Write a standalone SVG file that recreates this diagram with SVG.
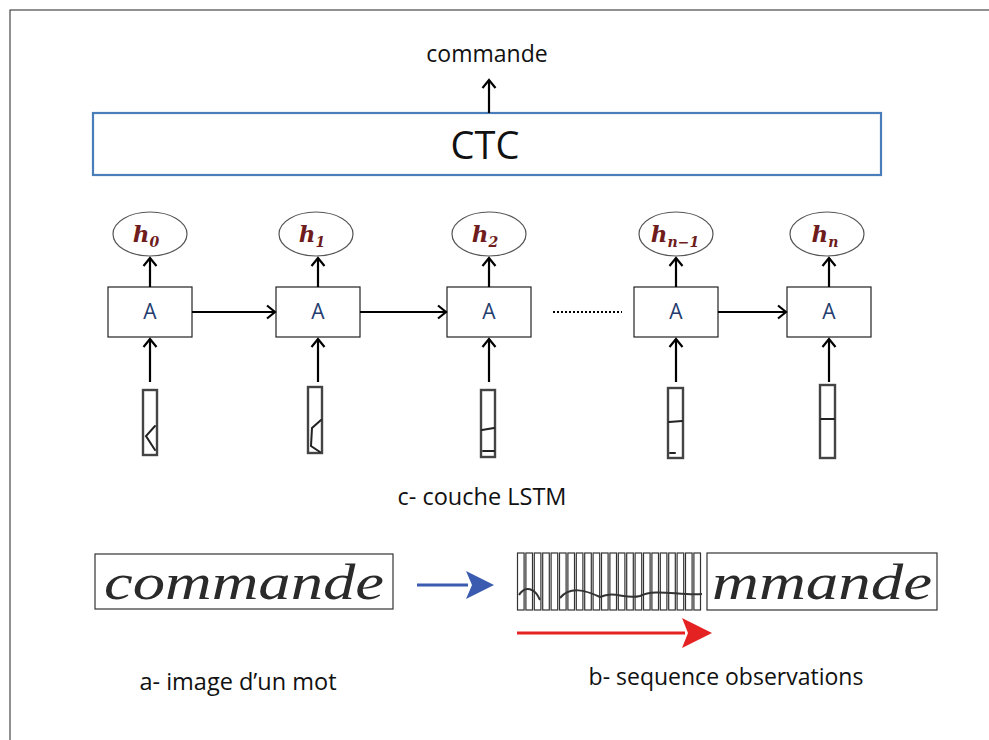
<svg xmlns="http://www.w3.org/2000/svg" width="989" height="740" viewBox="0 0 989 740">
<defs>
<style>
.lbl{font-family:"Open Sans","Liberation Sans",sans-serif;fill:#111;text-anchor:middle}
.box{fill:#fff;stroke:#222;stroke-width:1.2}
.atxt{font-family:"Open Sans","Liberation Sans",sans-serif;font-size:21px;fill:#1f3d6e;text-anchor:middle}
.ell{fill:#fff;stroke:#555;stroke-width:1.2}
.htxt{font-family:"DejaVu Serif","Liberation Serif",serif;font-style:italic;font-weight:bold;font-size:23px;fill:#6e1c1c;text-anchor:middle}
.sub{font-size:14px}
.conn{stroke:#000;stroke-width:2.2;fill:none}
.strip{fill:#fff;stroke:#444;stroke-width:2.4}
.ink{fill:none;stroke:#222;stroke-width:2;stroke-linecap:round}
.hand{font-family:"Liberation Serif",serif;font-style:italic;font-size:50px;fill:#2a2a2a}
.seq{fill:none;stroke:#333;stroke-width:1.2}
</style>
<marker id="open" markerWidth="12" markerHeight="16" refX="10" refY="8" orient="auto" markerUnits="userSpaceOnUse">
<path d="M2,1.5 L10,8 L2,14.5" fill="none" stroke="#000" stroke-width="2.2"/>
</marker>
</defs>
<rect x="10" y="10" width="990" height="760" fill="#fff" stroke="#222" stroke-width="1"/>

<g id="output-label"><text class="lbl" x="487" y="62" font-size="23">commande</text></g>

<g id="ctc">
<rect x="93" y="113" width="788" height="62" fill="#fff" stroke="#4a7ebb" stroke-width="2.2"/>
<text class="lbl" x="485" y="159" font-size="38">CTC</text>
</g>

<g id="h0"><ellipse class="ell" cx="150" cy="234" rx="37" ry="22"/><text class="htxt" x="146" y="242">h<tspan class="sub" dy="5">0</tspan></text></g>
<g id="h1"><ellipse class="ell" cx="316" cy="234" rx="37" ry="22"/><text class="htxt" x="312" y="242">h<tspan class="sub" dy="5">1</tspan></text></g>
<g id="h2"><ellipse class="ell" cx="489" cy="234" rx="37" ry="22"/><text class="htxt" x="485" y="242">h<tspan class="sub" dy="5">2</tspan></text></g>
<g id="hn1"><ellipse class="ell" cx="676" cy="234" rx="37" ry="22"/><text class="htxt" x="675" y="242">h<tspan class="sub" dy="5">n−1</tspan></text></g>
<g id="hn"><ellipse class="ell" cx="827" cy="234" rx="37" ry="22"/><text class="htxt" x="825" y="242">h<tspan class="sub" dy="5">n</tspan></text></g>

<g id="A0"><rect class="box" x="108" y="287" width="84" height="50"/><text class="atxt" x="150" y="319">A</text></g>
<g id="A1"><rect class="box" x="276" y="287" width="84" height="50"/><text class="atxt" x="318" y="319">A</text></g>
<g id="A2"><rect class="box" x="447" y="287" width="84" height="50"/><text class="atxt" x="489" y="319">A</text></g>
<g id="An1"><rect class="box" x="634" y="287" width="84" height="50"/><text class="atxt" x="676" y="319">A</text></g>
<g id="An"><rect class="box" x="787" y="287" width="84" height="50"/><text class="atxt" x="829" y="319">A</text></g>

<g id="x0"><rect class="strip" x="143" y="390" width="14" height="65"/><path class="ink" d="M155,426 L146,436 L155,450"/></g>
<g id="x1"><rect class="strip" x="308" y="387" width="14" height="66"/><path class="ink" d="M321,420 L312,428 L311,446 L320,452"/></g>
<g id="x2"><rect class="strip" x="481" y="390" width="14" height="67"/><path class="ink" d="M482,430 L494,428"/><path class="ink" d="M483,451 L494,451" stroke-width="1.2"/></g>
<g id="xn1"><rect class="strip" x="668" y="388" width="15" height="70"/><path class="ink" d="M669,422 L682,421"/><path class="ink" d="M670,453 L675,453" stroke-width="1.2"/></g>
<g id="xn"><rect class="strip" x="820" y="385" width="15" height="73"/><path class="ink" d="M821,419 L834,419" stroke-width="1.2"/></g>

<g id="connectors">
<line class="conn" x1="489" y1="113" x2="489" y2="80" marker-end="url(#open)"/>
<line class="conn" x1="150" y1="287" x2="150" y2="258" marker-end="url(#open)"/>
<line class="conn" x1="318" y1="287" x2="318" y2="258" marker-end="url(#open)"/>
<line class="conn" x1="489" y1="287" x2="489" y2="258" marker-end="url(#open)"/>
<line class="conn" x1="676" y1="287" x2="676" y2="258" marker-end="url(#open)"/>
<line class="conn" x1="829" y1="287" x2="829" y2="258" marker-end="url(#open)"/>
<line class="conn" x1="150" y1="382" x2="150" y2="339" marker-end="url(#open)"/>
<line class="conn" x1="318" y1="382" x2="318" y2="339" marker-end="url(#open)"/>
<line class="conn" x1="489" y1="382" x2="489" y2="339" marker-end="url(#open)"/>
<line class="conn" x1="676" y1="382" x2="676" y2="339" marker-end="url(#open)"/>
<line class="conn" x1="829" y1="382" x2="829" y2="339" marker-end="url(#open)"/>
<line class="conn" x1="192" y1="312" x2="275" y2="312" marker-end="url(#open)"/>
<line class="conn" x1="360" y1="312" x2="446" y2="312" marker-end="url(#open)"/>
<line class="conn" x1="718" y1="312" x2="786" y2="312" marker-end="url(#open)"/>
<line x1="553" y1="312" x2="622" y2="312" stroke="#000" stroke-width="2.2" stroke-dasharray="2,2"/>
<line x1="417" y1="585" x2="468" y2="585" stroke="#3a5bb0" stroke-width="3"/>
<path d="M466,571 L494,585 L466,599 L472,585 Z" fill="#3a5bb0"/>
<line x1="517" y1="633" x2="685" y2="633" stroke="#e52222" stroke-width="3"/>
<path d="M682,618 L712,633 L682,648 L688,633 Z" fill="#e52222"/>
</g>

<text class="lbl" x="482" y="505" font-size="23.5">c- couche LSTM</text>

<g id="image-a">
<rect x="95" y="554" width="298" height="55" fill="#fff" stroke="#333" stroke-width="1.2"/>
<text class="hand" x="244" y="599" text-anchor="middle" textLength="280" lengthAdjust="spacingAndGlyphs">commande</text>
</g>
<text class="lbl" x="238" y="690" font-size="23.5">a- image d’un mot</text>

<g id="image-b">
<rect x="707" y="553" width="230" height="57" fill="#fff" stroke="#333" stroke-width="1.2"/>
<text class="hand" x="822" y="599" text-anchor="middle" textLength="220" lengthAdjust="spacingAndGlyphs">mmande</text>
<g class="seq">
<path d="M519,595 C525,585 535,588 540,600 M560,598 C570,586 585,590 600,597 C615,590 625,600 640,596 C655,588 680,596 702,594" stroke="#333" stroke-width="2"/>
<rect x="517.5" y="553" width="6.6" height="57"/><rect x="525.9" y="553" width="6.6" height="57"/><rect x="534.3" y="553" width="6.6" height="57"/><rect x="542.7" y="553" width="6.6" height="57"/><rect x="551.1" y="553" width="6.6" height="57"/><rect x="559.5" y="553" width="6.6" height="57"/><rect x="567.9" y="553" width="6.6" height="57"/><rect x="576.3" y="553" width="6.6" height="57"/><rect x="584.7" y="553" width="6.6" height="57"/><rect x="593.1" y="553" width="6.6" height="57"/><rect x="601.5" y="553" width="6.6" height="57"/><rect x="609.9" y="553" width="6.6" height="57"/><rect x="618.3" y="553" width="6.6" height="57"/><rect x="626.7" y="553" width="6.6" height="57"/><rect x="635.1" y="553" width="6.6" height="57"/><rect x="643.5" y="553" width="6.6" height="57"/><rect x="651.9" y="553" width="6.6" height="57"/><rect x="660.3" y="553" width="6.6" height="57"/><rect x="668.7" y="553" width="6.6" height="57"/><rect x="677.1" y="553" width="6.6" height="57"/><rect x="685.5" y="553" width="6.6" height="57"/><rect x="693.9" y="553" width="6.6" height="57"/>
</g>
</g>
<text class="lbl" x="726" y="685" font-size="23">b- sequence observations</text>
</svg>
